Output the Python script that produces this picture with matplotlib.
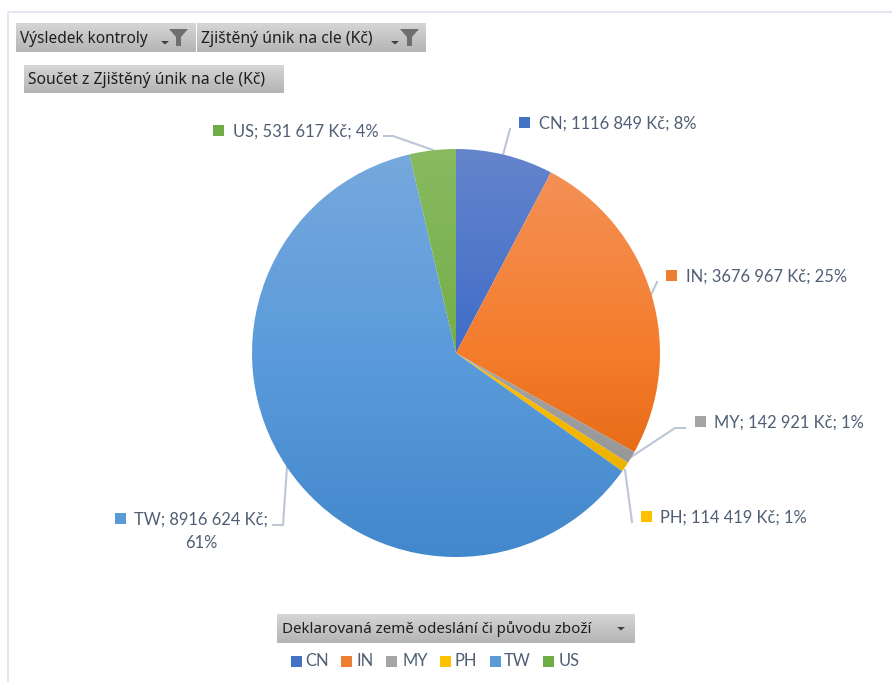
import numpy as np
import matplotlib
matplotlib.use("Agg")
import matplotlib.pyplot as plt
from matplotlib.colors import LinearSegmentedColormap
from matplotlib.patches import Rectangle, Polygon

categories = ["CN", "IN", "MY", "PH", "TW", "US"]
values = [1116849, 3676967, 142921, 114419, 8916624, 531617]
value_labels = ["1116 849 Kč", "3676 967 Kč", "142 921 Kč", "114 419 Kč", "8916 624 Kč", "531 617 Kč"]
percents = ["8%", "25%", "1%", "1%", "61%", "4%"]
top_colors = ["#6585CC", "#F4935C", "#B5B5B5", "#FFCC33", "#77A9DD", "#88BA60"]
mid_colors = ["#3F6CC8", "#F57C2B", "#A5A5A5", "#FFC000", "#5B9BDB", "#75AE48"]
bottom_colors = ["#2F5CB8", "#D85C05", "#8C8C8C", "#E0A800", "#4288CC", "#6AA53C"]
legend_colors = ["#4472C4", "#ED7D31", "#A5A5A5", "#FFC000", "#5B9BD5", "#70AD47"]

W, H = 892, 682
TXT = "#505F75"
LINE = "#BCC6D6"
FS = 11.9
fig = plt.figure(figsize=(W / 100, H / 100), dpi=100, facecolor="white")

bg = fig.add_axes([0, 0, 1, 1])
bg.set_xlim(0, W)
bg.set_ylim(H, 0)
bg.axis("off")

# outer frame
bg.plot([7.5, 7.5, W], [H, 11.5, 11.5], color="#E3E6EE", lw=1.4, solid_capstyle="butt")


def button(x0, y0, x1, y1, text, tx, fs, dy):
    bg.imshow(np.linspace(0, 1, 64)[:, None], extent=[x0, x1, y1, y0], aspect="auto", zorder=2,
              cmap=LinearSegmentedColormap.from_list("b", ["#D6D6D6", "#B4B4B4"]), vmin=0, vmax=1)
    bg.text(tx, (y0 + y1) / 2 + dy, text, fontsize=fs, family="Noto Sans",
            color="#1E1E1E", ha="left", va="center", zorder=3)


def funnel(x):
    bg.add_patch(Polygon([(x, 29), (x + 19, 29), (x + 12, 37), (x + 12, 46),
                          (x + 7, 46), (x + 7, 37)], color="#6E6E6E", zorder=3, lw=0))


def caret(cx, cy):
    bg.add_patch(Polygon([(cx - 4, cy), (cx + 4, cy), (cx, cy + 3.5)],
                         color="#404040", zorder=3, lw=0))


button(16, 23, 196, 52, "Výsledek kontroly", 20, 11.1, 1.5)
button(197, 23, 426, 52, "Zjištěný únik na cle (Kč)", 201, 11.3, 1.5)
button(24, 65, 284, 93, "Součet z Zjištěný únik na cle (Kč)", 28, 11.3, 1.5)
button(277, 614, 635, 643, "Deklarovaná země odeslání či původu zboží", 282, 10.9, 0.5)
funnel(169)
funnel(400)
caret(165, 41)
caret(395, 41)
caret(621, 627)

# pie
cx, cy, R = 456, 353, 204
pie = fig.add_axes([(cx - R) / W, 1 - (cy + R) / H, 2 * R / W, 2 * R / H])
wedges, _ = pie.pie(values, startangle=90, counterclock=False, radius=1,
                    wedgeprops=dict(edgecolor="none", linewidth=0))
for w, a, m, b in zip(wedges, top_colors, mid_colors, bottom_colors):
    w.set_facecolor("none")
    im = pie.imshow(np.linspace(0, 1, 256)[:, None], extent=[-1, 1, -1, 1],
                    origin="upper", aspect="auto", vmin=0, vmax=1, zorder=0.5,
                    cmap=LinearSegmentedColormap.from_list("g", [a, m, b]))
    im.set_clip_path(w)
pie.set_xlim(-1, 1)
pie.set_ylim(-1, 1)
pie.axis("off")

# data labels: marker x, marker y (centre), text x
positions = {
    "CN": (524, 122, 539),
    "IN": (671, 275, 686),
    "MY": (700, 421, 714),
    "PH": (646, 516, 660),
    "TW": (120, 518, 134),
    "US": (218, 130, 233),
}
for c, v, p, col in zip(categories, value_labels, percents, legend_colors):
    mx, my, tx = positions[c]
    bg.add_patch(Rectangle((mx - 5.5, my - 5.5), 11, 11, color=col, lw=0, zorder=4))
    if c == "TW":
        bg.text(tx, my + 2, f"{c}; {v};", fontsize=FS, family="Lato", color=TXT, ha="left", va="center")
        bg.text(185, my + 25, p, fontsize=FS, family="Lato", color=TXT, ha="left", va="center")
    else:
        bg.text(tx, my + 2, f"{c}; {v}; {p}", fontsize=FS, family="Lato", color=TXT, ha="left", va="center")

# leader lines
leaders = [
    [(384, 136), (393, 136), (433, 150)],
    [(510, 129), (503, 155)],
    [(657, 282), (650, 297)],
    [(685, 428), (675, 428), (628, 459)],
    [(632, 522), (625, 470)],
    [(273, 525), (283, 525), (287, 467)],
]
for pts in leaders:
    xs, ys = zip(*pts)
    bg.plot(xs, ys, color=LINE, lw=1.5, zorder=1)

# legend: marker centre x, text x
legend_pos = [(296, 305), (346, 357), (391.5, 402), (445, 455), (495, 504), (548, 559)]
for c, col, (mx, tx) in zip(categories, legend_colors, legend_pos):
    bg.add_patch(Rectangle((mx - 5.5, 655.5), 11, 11, color=col, lw=0, zorder=4))
    bg.text(tx, 661.5, c, fontsize=FS, family="Lato", color=TXT, ha="left", va="center")

bg.set_xlim(0, W)
bg.set_ylim(H, 0)
fig.savefig("out.png", dpi=100, facecolor="white")
